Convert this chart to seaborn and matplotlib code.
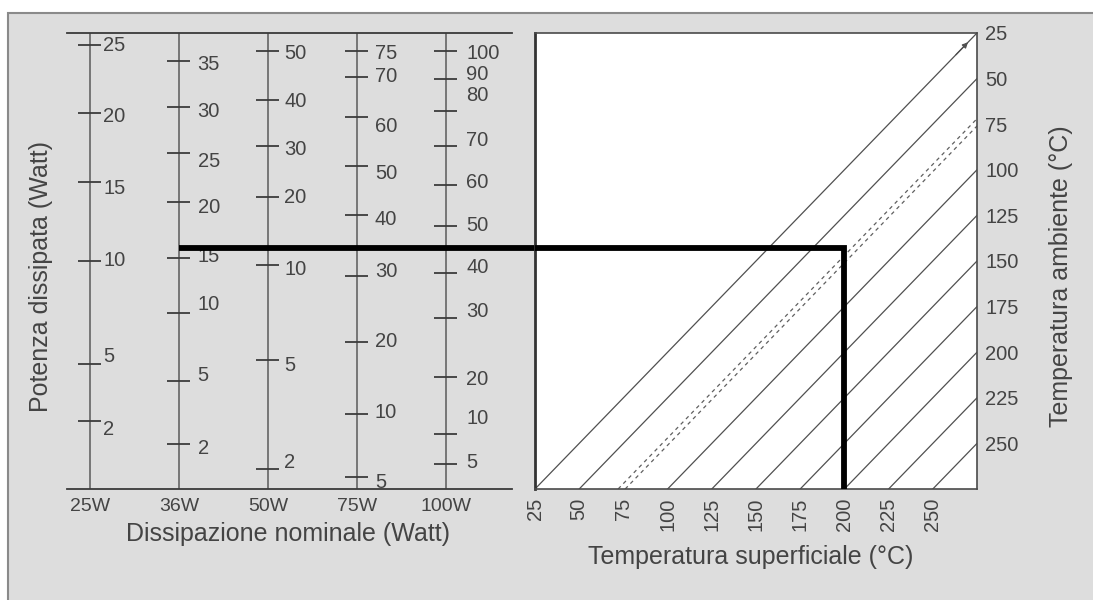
import matplotlib
matplotlib.use("Agg")
import matplotlib.pyplot as plt
import seaborn as sns
import pandas as pd
from matplotlib.patches import Rectangle

# ---------------- data ----------------
columns = ["25W", "36W", "50W", "75W", "100W"]

# tick values of each nominal-dissipation scale and their positions on the
# shared temperature scale (same scale as "Temperatura ambiente")
p25_vals = [25, 20, 15, 10, 5, 2]
p25_pos = [31.6, 68.9, 106.7, 150.0, 206.5, 237.7]
p25_lab = [31.6, 71.0, 110.0, 150.0, 202.6, 242.6]

p36_vals = [35, 30, 25, 20, 15, 10, 5, 2]
p36_pos = [40.3, 65.6, 90.8, 117.6, 148.3, 178.5, 215.8, 250.3]
p36_lab = [42.5, 68.3, 95.2, 120.9, 147.8, 173.6, 213.0, 253.0]

p50_vals = [50, 40, 30, 20, 10, 5, 2]
p50_pos = [34.9, 61.7, 86.9, 114.9, 152.2, 204.2, 264.0]
p50_lab = [36.5, 62.8, 89.1, 115.4, 154.4, 207.5, 260.2]

p75_vals = [75, 70, 60, 50, 40, 30, 20, 10, 5]
p75_pos = [34.9, 49.1, 71.0, 97.9, 124.8, 158.2, 194.4, 233.9, 268.4]
p75_lab = [36.5, 49.1, 76.5, 102.3, 127.5, 155.5, 194.4, 233.3, 271.7]

p100_vals = [100, 90, 80, 70, 60, 50, 40, 30, 20, 10, 5]
p100_pos = [34.9, 50.2, 67.8, 86.9, 108.3, 130.8, 156.6, 181.2, 213.6, 244.8, 261.3]
p100_lab = [36.5, 48.0, 59.0, 83.7, 107.2, 130.3, 153.8, 177.9, 215.2, 236.1, 260.2]

temp_ticks = [25, 50, 75, 100, 125, 150, 175, 200, 225, 250]
temp_min, temp_max = 25, 275

solid_starts = [25, 50, 100, 125, 150, 175, 200, 225, 250]
dashed_starts = [72, 76]

example_column = 1          # 36W
example_level = 143         # level of the worked example
example_surface = 200       # resulting surface temperature

# ---------------- figure ----------------
sns.set_theme(style="white")
plt.rcParams['font.family'] = ['Liberation Sans', 'DejaVu Sans']

W, H = 1093, 600
fig = plt.figure(figsize=(W / 100, H / 100), dpi=100)
fig.patch.set_facecolor('white')
fig.patches.append(Rectangle((8 / W, -0.05), 1.2, 1 - 13 / H + 0.05,
                             transform=fig.transFigure, facecolor='#dddddd',
                             edgecolor='#8a8a8a', lw=1.5, zorder=-10))

txt_col = '#444444'

# ---- left nomogram ----
col_step = 89.0
axL = fig.add_axes([67 / W, 111 / H, 445 / W, 456 / H])
axL.set_facecolor('none')
axL.set_xlim(-23 / col_step, 422 / col_step)
axL.set_ylim(temp_max, temp_min)
for s in ['left', 'right']:
    axL.spines[s].set_visible(False)
for s in ['top', 'bottom']:
    axL.spines[s].set_color('#3a3a3a')
    axL.spines[s].set_linewidth(1.3)
axL.set_xticks(range(len(columns)))
axL.set_xticklabels(columns)
axL.set_yticks([])
axL.tick_params(axis='x', length=0, pad=6.5, labelsize=14, labelcolor=txt_col)

axL.vlines(range(len(columns)), temp_min, temp_max, color='#5a5a5a', lw=1.1)

scales = [(p25_vals, p25_pos, p25_lab, 0.15),
          (p36_vals, p36_pos, p36_lab, 0.21),
          (p50_vals, p50_pos, p50_lab, 0.18),
          (p75_vals, p75_pos, p75_lab, 0.20),
          (p100_vals, p100_pos, p100_lab, 0.23)]
for i, (vals, pos, lab, off) in enumerate(scales):
    axL.hlines(pos, i - 0.13, i + 0.12, color='#3c3c3c', lw=1.3)
    for v, lp in zip(vals, lab):
        axL.text(i + off, lp, str(v), ha='left', va='center', fontsize=14.5,
                 color=txt_col)

# worked example, left part: runs from the 36W scale to the right chart
right_edge = (535 - 90) / col_step
axL.plot([example_column, right_edge], [example_level, example_level],
         color='black', lw=4.2, solid_capstyle='butt', clip_on=False, zorder=5)

# ---- right chart ----
axR = fig.add_axes([535 / W, 111 / H, 442 / W, 456 / H])
axR.set_facecolor('white')
axR.set_xlim(temp_min, temp_max)
axR.set_ylim(temp_max, temp_min)
for s in axR.spines.values():
    s.set_color('#4a4a4a')
    s.set_linewidth(1.2)
axR.spines['left'].set_linewidth(2.0)
axR.spines['left'].set_color('#333333')

rows = []
for k, s in enumerate(solid_starts):
    rows.append({'line': k, 'surf': s, 'amb': temp_max})
    rows.append({'line': k, 'surf': temp_max, 'amb': s})
df_solid = pd.DataFrame(rows)
rows = []
for k, s in enumerate(dashed_starts):
    rows.append({'line': k, 'surf': s, 'amb': temp_max})
    rows.append({'line': k, 'surf': temp_max, 'amb': s})
df_dash = pd.DataFrame(rows)

sns.lineplot(data=df_solid, x='surf', y='amb', units='line', estimator=None,
             color='#505050', lw=0.9, ax=axR, legend=False)
sns.lineplot(data=df_dash, x='surf', y='amb', units='line', estimator=None,
             color='#606060', lw=0.9, linestyle=(0, (3, 3)), ax=axR, legend=False)

# small arrow head on the first line near the top-right corner
axR.annotate('', xy=(271, 29), xytext=(262, 38),
             arrowprops=dict(arrowstyle='-|>', color='#505050', lw=0.9,
                             mutation_scale=8))

axR.plot([temp_min, example_surface, example_surface],
         [example_level, example_level, temp_max], color='black', lw=4.2,
         solid_joinstyle='miter', solid_capstyle='butt', clip_on=False, zorder=5)

axR.set_xticks(temp_ticks)
axR.set_xticklabels([str(t) for t in temp_ticks], rotation=90)
axR.set_yticks(temp_ticks)
axR.set_yticklabels([str(t) for t in temp_ticks])
axR.yaxis.tick_right()
axR.tick_params(axis='x', length=0, pad=6.5, labelsize=14.5, labelcolor=txt_col)
axR.tick_params(axis='y', length=0, pad=6, labelsize=14.5, labelcolor=txt_col)
axR.set_xlabel('')
axR.set_ylabel('')

# ---- axis titles ----
fig.text(41 / W, 1 - 276 / H, 'Potenza dissipata (Watt)', rotation=90,
         ha='center', va='center', fontsize=18, color=txt_col)
fig.text(1061 / W, 1 - 276 / H, 'Temperatura ambiente (°C)', rotation=90,
         ha='center', va='center', fontsize=18, color=txt_col)
fig.text(288 / W, 1 - 534 / H, 'Dissipazione nominale (Watt)',
         ha='center', va='center', fontsize=18, color=txt_col)
fig.text(751 / W, 1 - 557 / H, 'Temperatura superficiale (°C)',
         ha='center', va='center', fontsize=18, color=txt_col)

fig.savefig('out.png', dpi=100)
